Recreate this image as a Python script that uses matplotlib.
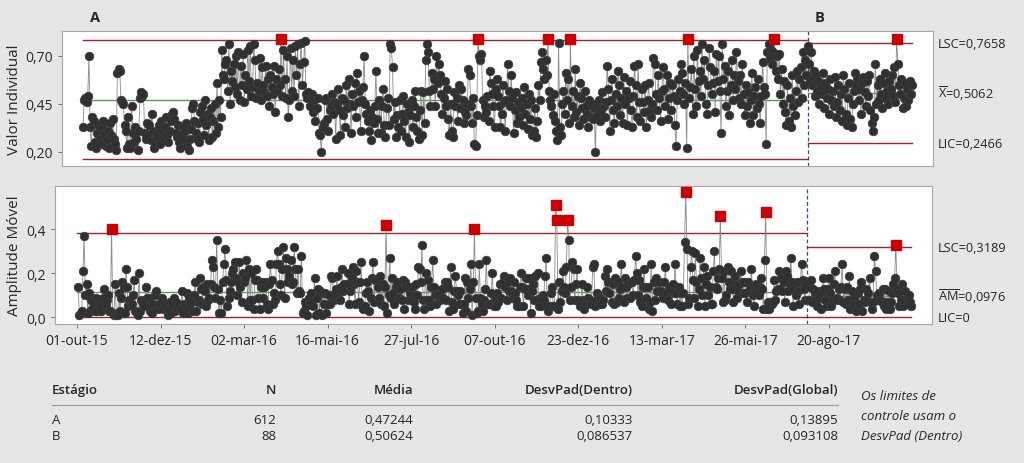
import numpy as np
import matplotlib
matplotlib.use("Agg")
import matplotlib.pyplot as plt
from matplotlib.lines import Line2D
import matplotlib.transforms as mtransforms

plt.rcParams['font.family'] = ['Open Sans', 'DejaVu Sans']

# ---------------- data ----------------
stage_a = [
    0.33,0.47,0.48,0.46,0.49,0.70,0.33,0.23,0.38,0.36,
    0.25,0.22,0.30,0.34,0.27,0.24,0.33,0.36,0.29,0.23,
    0.26,0.31,0.22,0.35,0.29,0.37,0.27,0.24,0.21,0.61,
    0.63,0.62,0.47,0.46,0.45,0.34,0.31,0.22,0.38,0.24,
    0.22,0.44,0.30,0.25,0.33,0.27,0.21,0.31,0.48,0.51,
    0.49,0.50,0.30,0.27,0.35,0.29,0.34,0.26,0.40,0.31,
    0.22,0.25,0.30,0.28,0.34,0.24,0.36,0.31,0.27,0.33,
    0.38,0.29,0.25,0.31,0.36,0.40,0.41,0.37,0.30,0.28,
    0.34,0.25,0.22,0.29,0.33,0.27,0.31,0.35,0.23,0.21,
    0.27,0.32,0.43,0.45,0.36,0.30,0.27,0.35,0.25,0.41,
    0.44,0.37,0.29,0.47,0.34,0.40,0.26,0.38,0.43,0.28,
    0.36,0.45,0.30,0.56,0.33,0.47,0.38,0.73,0.60,0.58,
    0.66,0.68,0.52,0.76,0.45,0.62,0.57,0.66,0.54,0.70,
    0.50,0.72,0.47,0.65,0.55,0.71,0.46,0.60,0.53,0.73,
    0.57,0.75,0.49,0.54,0.76,0.68,0.48,0.56,0.52,0.69,
    0.47,0.64,0.55,0.51,0.65,0.49,0.58,0.44,0.60,0.54,
    0.50,0.65,0.41,0.58,0.52,0.63,0.55,0.79,0.49,0.73,
    0.58,0.48,0.70,0.38,0.47,0.74,0.52,0.68,0.49,0.75,
    0.60,0.76,0.44,0.66,0.77,0.55,0.67,0.78,0.50,0.48,
    0.51,0.44,0.49,0.50,0.41,0.47,0.36,0.43,0.48,0.30,
    0.29,0.20,0.33,0.35,0.47,0.48,0.37,0.31,0.42,0.44,
    0.50,0.40,0.46,0.27,0.45,0.53,0.42,0.29,0.48,0.39,
    0.47,0.33,0.55,0.43,0.58,0.45,0.30,0.50,0.44,0.56,
    0.38,0.61,0.46,0.52,0.31,0.47,0.54,0.70,0.45,0.40,
    0.36,0.31,0.42,0.26,0.38,0.35,0.44,0.62,0.37,0.30,
    0.47,0.30,0.44,0.53,0.34,0.28,0.43,0.48,0.34,0.76,
    0.74,0.64,0.37,0.46,0.28,0.39,0.33,0.47,0.31,0.40,
    0.49,0.36,0.28,0.45,0.41,0.25,0.39,0.47,0.33,0.44,
    0.52,0.38,0.31,0.27,0.42,0.52,0.29,0.51,0.35,0.68,
    0.76,0.72,0.52,0.44,0.61,0.53,0.58,0.44,0.70,0.56,
    0.66,0.60,0.50,0.40,0.48,0.57,0.44,0.53,0.37,0.29,
    0.45,0.31,0.28,0.51,0.44,0.48,0.36,0.55,0.43,0.53,
    0.47,0.35,0.41,0.39,0.45,0.63,0.60,0.44,0.35,0.48,
    0.24,0.23,0.39,0.79,0.70,0.68,0.71,0.47,0.38,0.44,
    0.41,0.49,0.36,0.62,0.56,0.50,0.44,0.33,0.53,0.58,
    0.49,0.44,0.33,0.40,0.55,0.46,0.31,0.47,0.66,0.52,
    0.44,0.60,0.48,0.30,0.42,0.51,0.35,0.46,0.38,0.43,
    0.48,0.34,0.54,0.40,0.45,0.32,0.50,0.37,0.47,0.29,
    0.31,0.43,0.28,0.36,0.55,0.47,0.67,0.72,0.63,0.58,
    0.68,0.60,0.79,0.52,0.47,0.44,0.39,0.50,0.36,0.31,
    0.26,0.77,0.33,0.29,0.45,0.52,0.40,0.61,0.47,0.58,
    0.35,0.79,0.44,0.52,0.38,0.63,0.41,0.49,0.34,0.56,
    0.48,0.43,0.37,0.52,0.44,0.40,0.33,0.47,0.38,0.45,
    0.37,0.43,0.20,0.44,0.39,0.47,0.36,0.42,0.51,0.44,
    0.38,0.46,0.65,0.53,0.31,0.47,0.58,0.42,0.35,0.50,
    0.44,0.62,0.55,0.39,0.48,0.35,0.59,0.45,0.52,0.34,
    0.48,0.57,0.42,0.33,0.49,0.65,0.55,0.38,0.66,0.46,
    0.36,0.53,0.46,0.41,0.55,0.33,0.47,0.56,0.42,0.38,
    0.45,0.69,0.66,0.50,0.42,0.60,0.48,0.36,0.52,0.64,
    0.53,0.44,0.60,0.37,0.48,0.56,0.42,0.55,0.49,0.34,
    0.23,0.47,0.58,0.52,0.66,0.61,0.50,0.45,0.56,0.22,
    0.79,0.48,0.54,0.63,0.40,0.70,0.53,0.44,0.73,0.57,
    0.62,0.49,0.76,0.58,0.68,0.45,0.40,0.55,0.74,0.64,
    0.50,0.56,0.62,0.41,0.71,0.57,0.70,0.52,0.30,0.76,
    0.58,0.65,0.44,0.52,0.62,0.39,0.55,0.68,0.47,0.60,
    0.53,0.72,0.57,0.48,0.60,0.45,0.66,0.50,0.39,0.55,
    0.44,0.51,0.35,0.47,0.61,0.39,0.49,0.54,0.43,0.58,
    0.45,0.35,0.49,0.67,0.54,0.50,0.24,0.72,0.76,0.69,
    0.73,0.66,0.72,0.79,0.62,0.70,0.58,0.71,0.50,0.63,
    0.45,0.57,0.41,0.34,0.55,0.36,0.48,0.33,0.60,0.44,
    0.39,0.52,0.62,0.46,0.58,0.64,0.48,0.72,0.55,0.68,
    0.60,0.75,
]
stage_b = [
    0.66,0.58,0.72,0.55,0.62,0.49,0.60,0.52,0.57,0.45,
    0.54,0.50,0.61,0.43,0.56,0.48,0.53,0.40,0.58,0.47,
    0.52,0.44,0.59,0.38,0.46,0.55,0.42,0.50,0.36,0.60,
    0.53,0.40,0.34,0.48,0.56,0.37,0.33,0.45,0.52,0.61,
    0.55,0.58,0.47,0.53,0.40,0.56,0.59,0.51,0.44,0.57,
    0.49,0.60,0.42,0.35,0.31,0.38,0.66,0.45,0.55,0.47,
    0.58,0.50,0.43,0.56,0.61,0.48,0.52,0.45,0.57,0.53,
    0.60,0.49,0.64,0.46,0.79,0.66,0.55,0.50,0.58,0.43,
    0.48,0.56,0.44,0.53,0.47,0.57,0.50,0.55,
]

stage_names = ["A", "B"]
stage_n = [612, 88]
stage_mean = [0.47244, 0.50624]
stage_sd_within = [0.10333, 0.086537]
stage_sd_overall = [0.13895, 0.093108]

# limit values printed at the right (last stage)
i_limits_b = [0.7658, 0.5062, 0.2466]
mr_limits_b = [0.3189, 0.0976, 0.0]

tick_index = [1, 71, 141, 211, 281, 351, 421, 491, 561, 631]
tick_labels = ['01-out-15', '12-dez-15', '02-mar-16', '16-mai-16', '27-jul-16',
               '07-out-16', '23-dez-16', '13-mar-17', '26-mai-17', '20-ago-17']

# ---------------- style ----------------
BG = '#e6e6e6'
TXT = '#262626'
RED_LINE = '#a3222a'
GREEN = '#4fa04f'
PT = '#303030'
CONN = '#8a8a8a'
RED_PT = '#cc0000'
MS = 6.2

W, H = 1024, 464
fig = plt.figure(figsize=(W / 100, H / 100), dpi=100, facecolor=BG)

def ax_rect(l, t, r, b):
    return [l / W, 1 - b / H, (r - l) / W, (b - t) / H]

ax1 = fig.add_axes(ax_rect(62, 32, 933, 167))
ax2 = fig.add_axes(ax_rect(55, 187, 932, 325))

def fmt(v, d=4):
    return f"{v:.{d}f}".replace('.', ',')

vals = [np.array(stage_a, float), np.array(stage_b, float)]
starts = [1, 1 + len(stage_a)]
boundary = starts[1] - 0.5

for ax in (ax1, ax2):
    ax.set_facecolor('white')
    for s in ax.spines.values():
        s.set_color('#a8a8a8')
        s.set_linewidth(0.8)
    ax.tick_params(axis='both', colors='#707070', labelcolor=TXT, labelsize=10, length=3, width=0.7)
    ax.axvline(boundary, color='#2b4f86', lw=0.9, ls=(0, (3, 2)), zorder=1)

# ---------- Individuals chart ----------
ax1.set_xlim(-16.7, 717.7)
ax1.set_ylim(0.127, 0.830)
ax1.set_xticks([])
ax1.set_yticks([0.20, 0.45, 0.70])
ax1.set_yticklabels(['0,20', '0,45', '0,70'])

for k in range(2):
    v = vals[k]
    x = np.arange(starts[k], starts[k] + len(v))
    m, sd = stage_mean[k], stage_sd_within[k]
    ucl, lcl = m + 3 * sd, m - 3 * sd
    x0 = starts[k] - (0 if k == 0 else 0.5)
    x1 = (boundary if k == 0 else x[-1])
    ax1.plot([x0, x1], [ucl, ucl], color=RED_LINE, lw=1.0, zorder=1)
    ax1.plot([x0, x1], [lcl, lcl], color=RED_LINE, lw=1.0, zorder=1)
    ax1.plot([x0, x1], [m, m], color=GREEN, lw=1.0, zorder=1)
    ax1.plot(x, v, '-', color=CONN, lw=0.6, zorder=2)
    bad = (v > ucl) | (v < lcl)
    ax1.plot(x[~bad], v[~bad], 'o', ms=MS, mfc=PT, mec='#3c3c3c', mew=0.5, zorder=3)
    ax1.plot(x[bad], v[bad], 's', ms=6.5, mfc=RED_PT, mec=RED_PT, zorder=4)

trans1 = mtransforms.blended_transform_factory(ax1.transData, ax1.transAxes)
ax1.text(11, 1.10, stage_names[0], transform=trans1, ha='center', va='center',
         fontsize=10.5, fontweight='bold', color=TXT)
ax1.text(622, 1.10, stage_names[1], transform=trans1, ha='center', va='center',
         fontsize=10.5, fontweight='bold', color=TXT)

tr1 = mtransforms.blended_transform_factory(ax1.transAxes, ax1.transData)
xl1 = (938 - 62) / 871
ax1.text(xl1, i_limits_b[0], 'LSC=' + fmt(i_limits_b[0]), transform=tr1, ha='left', va='center', fontsize=9.2, color=TXT)
ax1.text(xl1, i_limits_b[1], r'$\mathregular{\overline{X}}$=' + fmt(i_limits_b[1]), transform=tr1, ha='left', va='center', fontsize=9.2, color=TXT)
ax1.text(xl1, i_limits_b[2], 'LIC=' + fmt(i_limits_b[2]), transform=tr1, ha='left', va='center', fontsize=9.2, color=TXT)

# ---------- Moving range chart ----------
ax2.set_xlim(-17.4, 717.3)
ax2.set_ylim(-0.030, 0.596)
ax2.set_yticks([0.0, 0.2, 0.4])
ax2.set_yticklabels(['0,0', '0,2', '0,4'])
ax2.set_xticks(tick_index)
ax2.set_xticklabels(tick_labels)

for k in range(2):
    v = vals[k]
    x = np.arange(starts[k], starts[k] + len(v))
    mr = np.abs(np.diff(v))
    xm = x[1:]
    mrbar = 1.128 * stage_sd_within[k]
    ucl = 3.267 * mrbar
    x0 = starts[k] - (0 if k == 0 else 0.5)
    x1 = (boundary if k == 0 else x[-1])
    ax2.plot([x0, x1], [ucl, ucl], color=RED_LINE, lw=1.0, zorder=1)
    ax2.plot([x0, x1], [0, 0], color=RED_LINE, lw=1.0, zorder=1)
    ax2.plot([x0, x1], [mrbar, mrbar], color=GREEN, lw=1.0, zorder=1)
    ax2.plot(xm, mr, '-', color=CONN, lw=0.6, zorder=2)
    bad = mr > ucl
    ax2.plot(xm[~bad], mr[~bad], 'o', ms=MS, mfc=PT, mec='#3c3c3c', mew=0.5, zorder=3)
    ax2.plot(xm[bad], mr[bad], 's', ms=6.5, mfc=RED_PT, mec=RED_PT, zorder=4)

tr2 = mtransforms.blended_transform_factory(ax2.transAxes, ax2.transData)
xl2 = (938 - 55) / 877
ax2.text(xl2, mr_limits_b[0], 'LSC=' + fmt(mr_limits_b[0]), transform=tr2, ha='left', va='center', fontsize=9.2, color=TXT)
ax2.text(xl2, mr_limits_b[1], r'$\mathregular{\overline{AM}}$=' + fmt(mr_limits_b[1]), transform=tr2, ha='left', va='center', fontsize=9.2, color=TXT)
ax2.text(xl2, mr_limits_b[2], 'LIC=0', transform=tr2, ha='left', va='center', fontsize=9.2, color=TXT)

fig.text(15 / W, 1 - 99.5 / H, 'Valor Individual', rotation=90, ha='center', va='center', fontsize=11, color=TXT)
fig.text(15 / W, 1 - 256 / H, 'Amplitude Móvel', rotation=90, ha='center', va='center', fontsize=11, color=TXT)

# ---------- summary table ----------
def fy(py):
    return 1 - py / H

cols_right = [276, 413, 633, 838]
headers = ['N', 'Média', 'DesvPad(Dentro)', 'DesvPad(Global)']
fig.text(52 / W, fy(391), 'Estágio', ha='left', va='center', fontsize=9.5, fontweight='semibold', color=TXT)
for xr, h in zip(cols_right, headers):
    fig.text(xr / W, fy(391), h, ha='right', va='center', fontsize=9.5, fontweight='semibold', color=TXT)
fig.add_artist(Line2D([52 / W, 838 / W], [fy(406), fy(406)], color='#9a9a9a', lw=0.8))
row_y = [421, 437]
for k in range(2):
    cells = [str(stage_n[k]), fmt(stage_mean[k], 5),
             f"{stage_sd_within[k]:.5g}".replace('.', ','),
             f"{stage_sd_overall[k]:.5g}".replace('.', ',')]
    fig.text(52 / W, fy(row_y[k]), stage_names[k], ha='left', va='center', fontsize=9.5, color=TXT)
    for xr, c in zip(cols_right, cells):
        fig.text(xr / W, fy(row_y[k]), c, ha='right', va='center', fontsize=9.5, color=TXT)

for py, line in zip([397, 417, 437], ['Os limites de', 'controle usam o', 'DesvPad (Dentro)']):
    fig.text(861 / W, fy(py), line, ha='left', va='center', fontsize=9.5, style='italic', color=TXT)

fig.savefig('out.png', dpi=100, facecolor=BG)
